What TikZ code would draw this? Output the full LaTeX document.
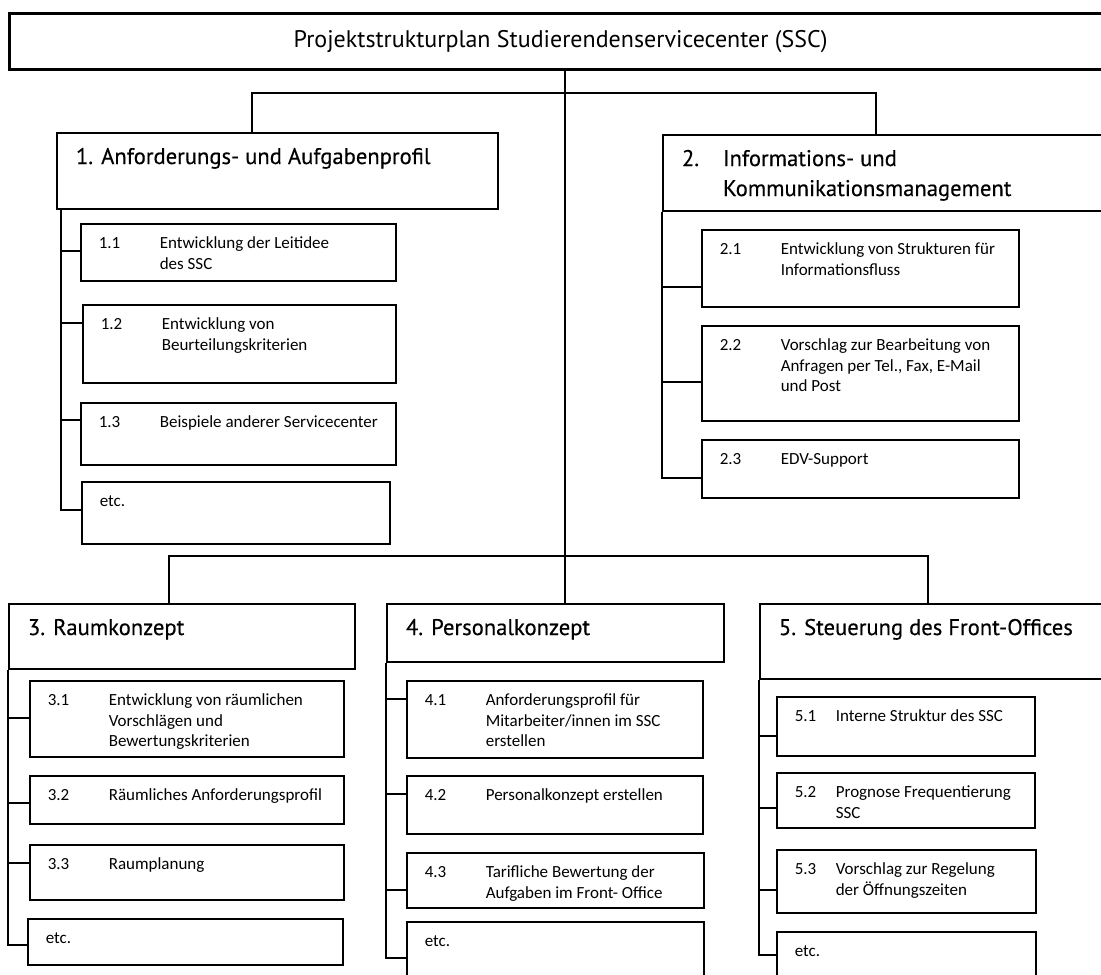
\documentclass[tikz,border=0pt]{standalone}
\usepackage{fontspec}
\setmainfont{Carlito}
\newfontfamily\headfont{PT Sans}[FakeBold=0.4]
\newfontfamily\titlefont{PT Sans}
\usetikzlibrary{positioning}

% one pixel of the layout grid
\newdimen\px \px=0.5pt

% text of a work package: [#1 number column], #2 width, #3 height, #4 number, #5 text
\newcommand{\subcell}[5][61]{%
	\parbox[t][#3\px][t]{#2\px}{\rule{0pt}{25\px}\hspace*{18\px}\makebox[#1\px][l]{#4}%
		\parbox[t]{\dimexpr#2\px-18\px-#1\px\relax}{#5}}}
% text of a sub project: #1 width, #2 height, #3 text
\newcommand{\seccell}[3]{%
	\parbox[t][#2\px][t]{#1\px}{\rule{0pt}{31\px}\hspace*{19\px}#3}}

\begin{document}
\begin{tikzpicture}[
		x=1\px, y=-1\px,
		% Box styles
		box/.style={draw=black, anchor=north west, inner sep=0pt, align=left},
		titleBox/.style={box, line width=1.6pt, align=center, font=\titlefont\fontsize{12}{14}\selectfont},
		secBox/.style={box, line width=1pt, font=\headfont\fontsize{11.3}{15}\selectfont},
		subBox/.style={box, line width=0.8pt, font=\fontsize{8.5}{10.25}\selectfont},
		% Line style of the tree
		treeLine/.style={line width=1pt}
		]
		\useasboundingbox (0,0) rectangle (1101,974);
		
		% =========================================================
		% ROOT
		% =========================================================
		\node[titleBox, minimum width=1102\px, minimum height=56\px] (title) at (8,12)
			{Projektstrukturplan Studierendenservicecenter (SSC)};
		
		\coordinate (hubTop) at (565,93);
		\coordinate (hubLow) at (565,556);
		
		% =========================================================
		% UPPER ROW: SUB PROJECTS 1 AND 2
		% =========================================================
		\node[secBox] (s1) at (56,132) {\seccell{441}{76}{1. Anforderungs- und Aufgabenprofil}};
		\node[secBox] (s2) at (662,134) {\seccell{460}{76}{\makebox[41\px][l]{2.}\parbox[t]{380\px}{Informations- und\\Kommunikationsmanagement}}};
		
		% Work packages 1
		\node[subBox] (b11) at (80,223) {\subcell{315}{57}{1.1}{Entwicklung der Leitidee\\des SSC}};
		\node[subBox] (b12) at (82,304) {\subcell{313}{78}{1.2}{Entwicklung von\\Beurteilungskriterien}};
		\node[subBox] (b13) at (80,402) {\subcell{315}{62}{1.3}{Beispiele anderer Servicecenter}};
		\node[subBox] (b14) at (81,481) {\subcell{308}{62}{etc.}{}};
		
		% Work packages 2
		\node[subBox] (b21) at (701,229) {\subcell{317}{77}{2.1}{Entwicklung von Strukturen für\\Informationsfluss}};
		\node[subBox] (b22) at (701,325) {\subcell{317}{95}{2.2}{Vorschlag zur Bearbeitung von\\Anfragen per Tel., Fax, E-Mail\\und Post}};
		\node[subBox] (b23) at (701,439) {\subcell{317}{58}{2.3}{EDV-Support}};
		
		% =========================================================
		% LOWER ROW: SUB PROJECTS 3, 4 AND 5
		% =========================================================
		\node[secBox] (s3) at (8,603) {\seccell{346}{65}{3. Raumkonzept}};
		\node[secBox] (s4) at (386,603) {\seccell{337}{58}{4. Personalkonzept}};
		\node[secBox] (s5) at (759,603) {\seccell{360}{75}{5. Steuerung des Front-Offices}};
		
		% Work packages 3
		\node[subBox] (b31) at (29,680) {\subcell{314}{76}{3.1}{Entwicklung von räumlichen\\Vorschlägen und\\Bewertungskriterien}};
		\node[subBox] (b32) at (29,775) {\subcell{314}{48}{3.2}{Räumliches Anforderungsprofil}};
		\node[subBox] (b33) at (29,844) {\subcell{314}{55}{3.3}{Raumplanung}};
		\node[subBox] (b34) at (27,918) {\subcell{315}{46}{etc.}{}};
		
		% Work packages 4
		\node[subBox] (b41) at (406,680) {\subcell{296}{77}{4.1}{Anforderungsprofil für\\Mitarbeiter/innen im SSC\\erstellen}};
		\node[subBox] (b42) at (406,775) {\subcell{296}{58}{4.2}{Personalkonzept erstellen}};
		\node[subBox] (b43) at (406,852) {\subcell{297}{55}{4.3}{Tarifliche Bewertung der\\Aufgaben im Front- Office}};
		\node[subBox] (b44) at (406,921) {\subcell{297}{70}{etc.}{}};
		
		% Work packages 5
		\node[subBox] (b51) at (776,696) {\subcell[41]{258}{59}{5.1}{Interne Struktur des SSC}};
		\node[subBox] (b52) at (776,772) {\subcell[41]{258}{55}{5.2}{Prognose Frequentierung\\SSC}};
		\node[subBox] (b53) at (776,849) {\subcell[41]{259}{63}{5.3}{Vorschlag zur Regelung\\der Öffnungszeiten}};
		\node[subBox] (b54) at (776,931) {\subcell[41]{259}{60}{etc.}{}};
		
		% =========================================================
		% TREE LINES
		% =========================================================
		\draw[treeLine] (title.south -| hubTop) -- (s4.north -| hubTop);
		\draw[treeLine] (s1.north -| 252,0) |- (hubTop) -| (s2.north -| 876,0);
		\draw[treeLine] (s3.north -| 169,0) |- (hubLow) -| (s5.north -| 928,0);
		
		% Spines and branches
		\draw[treeLine] (s1.south -| 61,0) |- (b14.west |- 0,510);
		\foreach \n/\y in {b11/251, b12/323, b13/420}
			\draw[treeLine] (61,\y) -- (\n.west |- 0,\y);
		
		\draw[treeLine] (s2.south west) |- (b23.west |- 0,478);
		\foreach \n/\y in {b21/287, b22/382}
			\draw[treeLine] (662,\y) -- (\n.west |- 0,\y);
		
		\draw[treeLine] (s3.south west) |- (b34.west |- 0,945);
		\foreach \n/\y in {b31/718, b32/803, b33/863}
			\draw[treeLine] (8,\y) -- (\n.west |- 0,\y);
		
		\draw[treeLine] (s4.south west) |- (b44.west |- 0,958);
		\foreach \n/\y in {b41/699, b42/794, b43/890}
			\draw[treeLine] (386,\y) -- (\n.west |- 0,\y);
		
		\draw[treeLine] (s5.south west) |- (b54.west |- 0,955);
		\foreach \n/\y in {b51/736, b52/808, b53/890}
			\draw[treeLine] (759,\y) -- (\n.west |- 0,\y);
		
	\end{tikzpicture}
\end{document}
